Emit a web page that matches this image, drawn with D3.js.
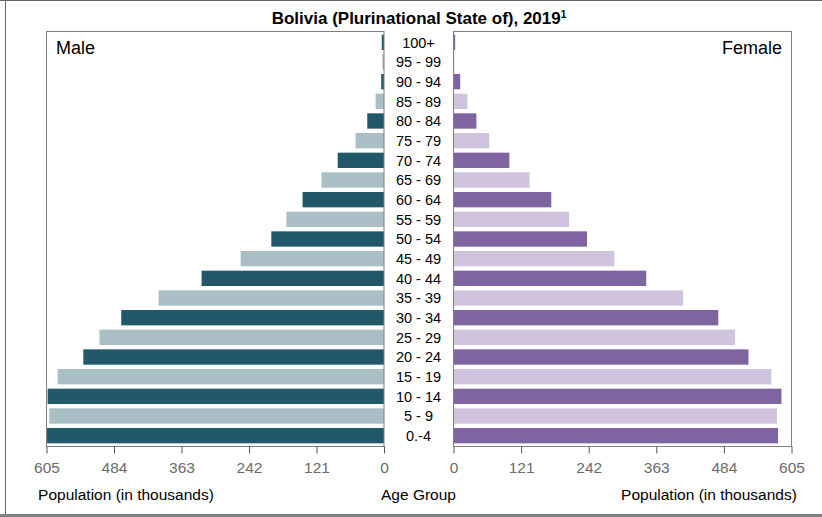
<!DOCTYPE html>
<html>
<head>
<meta charset="utf-8">
<script src="https://cdn.jsdelivr.net/npm/d3@7"></script>
<style>
  html, body { margin: 0; padding: 0; background: #fff; }
  svg { display: block; font-family: "Liberation Sans Narrow", "Arial Narrow", "Liberation Sans", Arial, sans-serif; }
</style>
</head>
<body>
<svg id="chart" width="822" height="517"></svg>
<script>
// Age groups, oldest at the top
const ageGroups = ["100+", "95 - 99", "90 - 94", "85 - 89", "80 - 84", "75 - 79", "70 - 74",
  "65 - 69", "60 - 64", "55 - 59", "50 - 54", "45 - 49", "40 - 44", "35 - 39", "30 - 34",
  "25 - 29", "20 - 24", "15 - 19", "10 - 14", "5 - 9", "0.-4"];

// Population in thousands, same order as ageGroups
const maleValues = [4, 3, 5, 15, 30, 51, 83, 112, 146, 175, 202, 257, 327, 404, 471, 510, 539, 585, 603, 600, 604];
const femaleValues = [3, 1.5, 12, 25, 41, 64, 100, 136, 175, 207, 239, 288, 345, 411, 474, 504, 528, 569, 587, 579, 581];

const tickValues = [0, 121, 242, 363, 484, 605];
const maxValue = 605;

const svg = d3.select("#chart");

// Page frame
svg.append("line").attr("x1", 0).attr("x2", 822).attr("y1", 0.5).attr("y2", 0.5).attr("stroke", "#666").attr("stroke-width", 1);
svg.append("line").attr("x1", 5.5).attr("x2", 5.5).attr("y1", 0).attr("y2", 514).attr("stroke", "#666").attr("stroke-width", 1);
svg.append("rect").attr("x", 0).attr("y", 514).attr("width", 822).attr("height", 3).attr("fill", "#808080");

// Title
const title = svg.append("text").attr("x", 419).attr("y", 24).attr("text-anchor", "middle")
  .attr("font-size", 17).attr("font-weight", "bold").attr("fill", "#000");
title.append("tspan").text("Bolivia (Plurinational State of), 2019");
title.append("tspan").attr("font-size", 10).attr("dy", -6).text("1");

const plotTop = 31.5, plotBottom = 446.5;
const y = d3.scaleBand().domain(ageGroups).range([plotTop, plotBottom]).paddingInner(0.22).paddingOuter(0.16);

const xMale = d3.scaleLinear().domain([maxValue, 0]).range([46.5, 384]);
const xFemale = d3.scaleLinear().domain([0, maxValue]).range([453.5, 791.5]);

const maleColors = ["#22596A", "#AABEC5"];
const femaleColors = ["#8064A2", "#D0C3DD"];

// Bars: alternating dark / light shades, youngest row dark
const n = ageGroups.length;
svg.append("g").selectAll("rect").data(maleValues).join("rect")
  .attr("x", d => xMale(d))
  .attr("y", (d, i) => y(ageGroups[i]))
  .attr("width", d => xMale(0) - xMale(d))
  .attr("height", y.bandwidth())
  .attr("fill", (d, i) => maleColors[(n - 1 - i) % 2]);

svg.append("g").selectAll("rect").data(femaleValues).join("rect")
  .attr("x", xFemale(0))
  .attr("y", (d, i) => y(ageGroups[i]))
  .attr("width", d => xFemale(d) - xFemale(0))
  .attr("height", y.bandwidth())
  .attr("fill", (d, i) => femaleColors[(n - 1 - i) % 2]);

// Panel frames
[[46.5, 384], [453.5, 791.5]].forEach(([x0, x1]) => {
  svg.append("rect").attr("x", x0).attr("y", plotTop).attr("width", x1 - x0).attr("height", plotBottom - plotTop)
    .attr("fill", "none").attr("stroke", "#7f7f7f").attr("stroke-width", 1);
});

// Age group labels
svg.append("g").selectAll("text").data(ageGroups).join("text")
  .attr("x", 418.5)
  .attr("y", d => y(d) + y.bandwidth() / 2)
  .attr("dy", "0.36em")
  .attr("text-anchor", "middle")
  .attr("font-size", 14.5)
  .attr("fill", "#000")
  .text(d => d);

// Axes
function styleAxis(g) {
  g.select(".domain").remove();
  g.selectAll(".tick line").attr("stroke", "#555").attr("y2", 7);
  g.selectAll(".tick text").attr("fill", "#6b6b6b").attr("font-size", 15.5).attr("dy", 0).attr("y", 26)
    .attr("font-family", "\"Liberation Sans Narrow\", \"Arial Narrow\", \"Liberation Sans\", Arial, sans-serif");
}
svg.append("g").attr("transform", `translate(0,${plotBottom})`)
  .call(d3.axisBottom(xMale).tickValues(tickValues).tickFormat(d3.format("d")).tickSizeOuter(0))
  .call(styleAxis);
svg.append("g").attr("transform", `translate(0,${plotBottom})`)
  .call(d3.axisBottom(xFemale).tickValues(tickValues).tickFormat(d3.format("d")).tickSizeOuter(0))
  .call(styleAxis);

// Axis titles
svg.append("text").attr("x", 126).attr("y", 500).attr("text-anchor", "middle").attr("font-size", 15.5).attr("fill", "#000").text("Population (in thousands)");
svg.append("text").attr("x", 418.5).attr("y", 500).attr("text-anchor", "middle").attr("font-size", 15.5).attr("fill", "#000").text("Age Group");
svg.append("text").attr("x", 709).attr("y", 500).attr("text-anchor", "middle").attr("font-size", 15.5).attr("fill", "#000").text("Population (in thousands)");

// Panel labels
svg.append("text").attr("x", 56).attr("y", 54).attr("font-size", 18).attr("fill", "#000").text("Male");
svg.append("text").attr("x", 782).attr("y", 54).attr("text-anchor", "end").attr("font-size", 18).attr("fill", "#000").text("Female");
</script>
</body>
</html>
